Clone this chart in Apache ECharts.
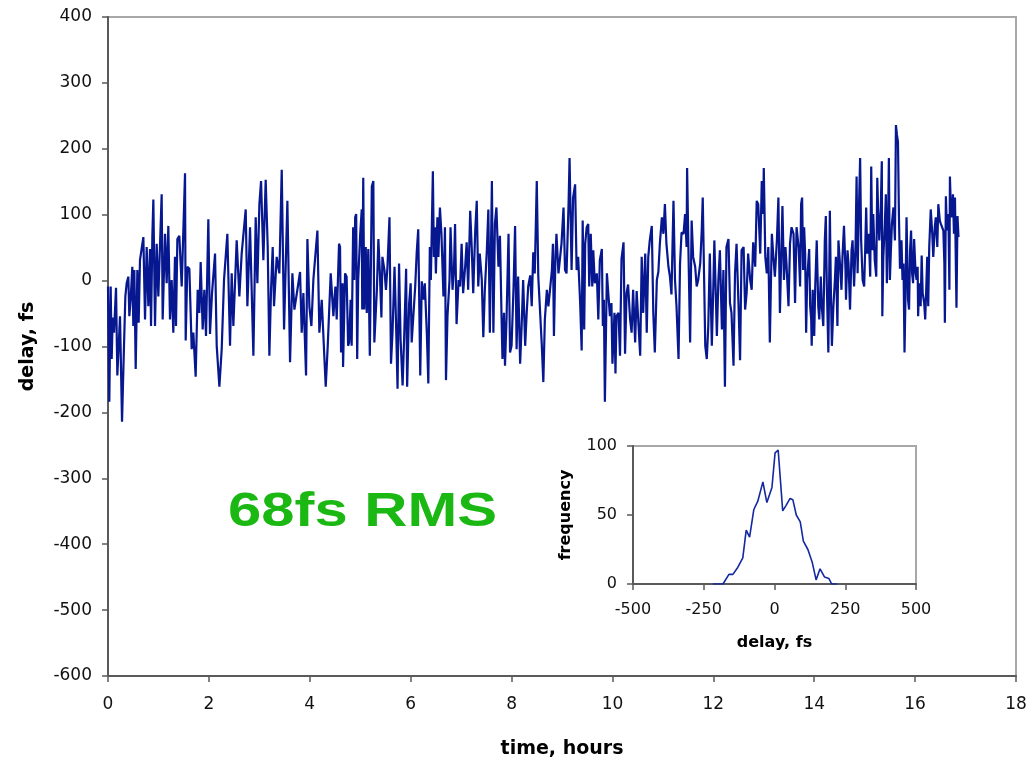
<!DOCTYPE html>
<html>
<head>
<meta charset="utf-8">
<script src="https://cdn.jsdelivr.net/npm/echarts@6/dist/echarts.min.js"></script>
<style>
html,body{margin:0;padding:0;background:#fff;}
#chart{width:1030px;height:764px;}
</style>
</head>
<body>
<div id="chart"></div>
<script>
// ---- main time series in four stretches (hours, delay fs) ----
const hoursA = [
0,0.026,0.053,0.073,0.093,0.119,0.159,0.185,0.238,0.278,
0.317,0.344,0.370,0.403,0.423,0.449,0.482,0.502,0.522,0.549,
0.582,0.608,0.634,0.701,0.734,0.767,0.800,0.833,0.853,0.879,
0.899,0.932,0.965,0.998,1.064,1.084,1.130,1.163,1.196,1.229,
1.262,1.295,1.328,1.348,1.375,1.414,1.461,1.527,1.540,1.573,
1.613,1.659,1.692,1.738,1.778,1.811,1.837,1.877,1.910,1.943,
1.989,2.022,2.062,2.122,2.155,2.208,2.254,2.300,2.366,2.419,
2.452,2.485,2.551,2.604,2.650,2.730,2.763,2.816,2.882,2.928,
2.961,3.001,3.034,3.080,3.126,3.166,3.199,3.232,3.265,3.291,
3.344,3.397,3.444,3.490,3.556,3.609,3.655,3.695,3.807,3.840,
3.873,3.926,3.953,3.992,4.032,4.071,4.151,4.190,4.237,4.316,
4.356,4.415,4.468,4.508,4.534,4.580];
const delayA = [
-9,-184,-9,-119,-56,-79,-11,-144,-54,-214,
-99,-24,-4,6,-54,-29,21,-69,16,-134,
16,-64,31,66,-59,51,-39,48,-69,66,
123,-69,56,-24,131,-59,71,-4,83,-59,
1,-79,36,-69,63,68,-9,163,-91,21,
18,-104,-79,-146,-14,-49,28,-74,-14,-84,
93,-81,-19,41,-99,-161,-104,1,71,-99,
11,-69,61,-24,41,108,-39,81,-114,96,
-4,116,151,31,153,51,-114,-14,51,-39,
36,11,168,-74,121,-124,11,-44,13,-79,
-19,-144,63,-39,-69,1,76,-79,-29,-161,
-99,11,-54,-9,-59,56];

const hoursB = [
4.60,4.62,4.65,4.66,4.70,4.73,4.76,4.78,4.81,4.83,
4.86,4.88,4.90,4.92,4.94,4.96,5.00,5.03,5.04,5.06,
5.08,5.11,5.13,5.16,5.19,5.23,5.26,5.28,5.33,5.36,
5.39,5.42,5.44,5.48,5.51,5.54,5.58,5.61,5.64,5.68,
5.71,5.74,5.77,5.80,5.84,5.87,5.91,5.93,5.97,6.00,
6.02,6.05,6.09,6.12,6.15,6.19,6.22,6.25,6.28,6.32,
6.35,6.38,6.40,6.44,6.46,6.48,6.50,6.53,6.55,6.58,
6.61,6.65,6.68,6.70,6.73,6.77,6.79,6.83,6.86,6.88,
6.91,6.95,6.98,7.01,7.04,7.08,7.11,7.14,7.18,7.21,
7.24,7.28,7.31,7.34,7.37,7.41,7.44,7.47,7.51,7.54,
7.57,7.61,7.64,7.67,7.70,7.74,7.77,7.80,7.82,7.85,
7.87,7.90,7.94,7.97,8.00,8.04,8.07,8.10,8.13,8.17,
8.20,8.23,8.27,8.30,8.33,8.37,8.40,8.43,8.46,8.50,
8.53,8.56,8.60,8.63,8.66,8.70,8.73,8.76,8.80,8.82,
8.84,8.87,8.89,8.93,8.96,8.99,9.03,9.06,9.09,9.13,
9.15];
const delayB = [
51,-109,-4,-131,11,6,-99,-94,-29,-99,
81,1,96,101,-119,1,71,108,-44,156,
-44,51,-49,48,-114,143,151,-94,-14,63,
11,-56,36,16,-14,21,96,-126,-79,21,
-64,-164,26,-89,-159,-89,18,-161,-34,-4,
-94,-96,-9,43,78,-144,-1,-29,-4,-79,
-156,51,1,166,36,81,11,96,36,111,
71,-24,81,-151,-54,1,81,-14,21,86,
-66,1,-9,56,-19,21,58,-14,106,51,
-19,76,121,-9,41,1,-86,-14,46,108,
-79,151,-79,86,111,21,68,-49,-119,-49,
-129,-59,71,-109,-99,-9,83,-104,6,-126,
-69,1,-99,-49,-9,8,-39,43,11,151,
6,3,-99,-154,-59,-14,-39,-39,16,56,
-84,36,71,11,11,56,111,16,11,116,
186];

const hoursC = [
9.19,9.22,9.26,9.29,9.32,9.36,9.39,9.41,9.44,9.46,
9.49,9.52,9.54,9.57,9.60,9.62,9.65,9.69,9.72,9.75,
9.79,9.81,9.83,9.85,9.89,9.92,9.95,9.98,10.00,10.04,
10.06,10.08,10.12,10.15,10.18,10.22,10.25,10.28,10.31,10.35,
10.38,10.41,10.45,10.48,10.51,10.55,10.58,10.61,10.65,10.68,
10.71,10.74,10.78,10.81,10.84,10.88,10.91,10.94,10.98,11.01,
11.04,11.07,11.11,11.14,11.17,11.21,11.24,11.27,11.31,11.34,
11.37,11.41,11.44,11.47,11.48,11.51,11.54,11.57,11.60,11.64,
11.67,11.70,11.74,11.77,11.79,11.82,11.84,11.87,11.90,11.93,
11.97,12.00,12.02,12.05,12.07,12.10,12.13,12.17,12.20,12.23,
12.26,12.30,12.33,12.36,12.40,12.43,12.46,12.50,12.53,12.56,
12.60,12.63,12.66,12.69,12.73,12.76,12.79,12.83,12.86,12.89,
12.93,12.96,12.99,13.00,13.03,13.06,13.09,13.12,13.16,13.19,
13.22,13.26,13.29,13.32,13.36,13.37,13.40,13.43,13.45,13.49,
13.52,13.55,13.59,13.62,13.65,13.69,13.72];
const delayC = [
16,126,146,16,36,-34,-106,91,-74,56,
81,86,-9,71,-9,46,-4,11,-59,31,
48,-69,-29,-184,11,13,-54,-34,-126,-49,
-141,-54,-49,-114,33,58,-111,-19,-6,-59,
-79,-14,-94,-16,-19,-114,36,-49,41,-79,
36,61,83,-49,-109,1,13,56,96,71,
116,56,21,6,-21,121,1,-39,-119,26,
73,71,101,51,171,31,-94,91,36,21,
-9,1,26,76,126,-9,-99,-119,-69,41,
-99,-9,61,-24,-84,1,46,-74,16,-161,
51,63,-34,-49,-129,11,56,-39,-121,46,
51,-44,-19,41,1,-14,58,21,121,116,
41,151,101,171,36,11,51,-94,71,36,
6,61,126,-49,81,113,1,51,26,-39,
56,81,71,-34,81,51,-9];

const hoursD = [
13.74,13.76,13.78,13.80,13.82,13.84,13.86,13.90,13.92,13.94,
13.95,13.97,14.00,14.02,14.05,14.08,14.10,14.13,14.15,14.18,
14.21,14.23,14.25,14.28,14.30,14.31,14.33,14.35,14.38,14.41,
14.43,14.46,14.48,14.51,14.54,14.56,14.59,14.62,14.63,14.66,
14.68,14.71,14.74,14.76,14.79,14.82,14.84,14.86,14.88,14.91,
14.93,14.96,14.99,15.01,15.03,15.05,15.08,15.11,15.13,15.15,
15.17,15.20,15.23,15.25,15.27,15.29,15.32,15.34,15.35,15.37,
15.40,15.42,15.44,15.46,15.48,15.50,15.52,15.54,15.57,15.60,
15.62,15.64,15.66,15.68,15.70,15.73,15.75,15.77,15.79,15.81,
15.83,15.86,15.88,15.90,15.92,15.94,15.96,15.98,16.01,16.03,
16.05,16.06,16.08,16.11,16.13,16.15,16.18,16.20,16.22,16.24,
16.26,16.28,16.31,16.34,16.36,16.39,16.41,16.44,16.46,16.49,
16.51,16.54,16.56,16.58,16.59,16.61,16.63,16.66,16.68,16.69,
16.71,16.73,16.75,16.77,16.79,16.81,16.82,16.84,16.86];
const delayD = [
116,126,16,81,41,-79,1,48,-39,-59,
-99,-14,-84,-9,61,-39,-59,6,-39,-69,
61,98,-9,-109,26,106,-14,-99,-39,1,
36,-69,61,26,-14,36,83,16,-29,46,
26,-44,46,61,-9,56,158,11,86,186,
61,1,-9,46,111,41,71,6,173,46,
101,31,6,156,96,61,111,181,-54,36,
86,131,-4,66,186,1,46,86,111,61,
236,221,211,96,18,61,1,26,-109,-19,
96,-29,-44,46,76,11,-4,63,11,1,
21,-54,-4,-39,38,-19,-34,-59,-14,36,
-39,51,108,71,36,81,96,51,116,91,
86,86,76,26,-64,128,76,101,-14,158,
106,96,131,71,126,11,-41,98,66];

// ---- inset histogram (delay fs, frequency) ----
const histDelay = [-218,-182,-161,-147,-130,-112,-100,-88,-73,-59,-41,-27,-9,2,13,20,29,41,55,65,77,91,102,118,133,147,161,177,192,202,221];
const histFreq  = [0,0,7,7,12,19,39,34,54,60,74,59,70,95,97,97,53,57,62,61,50,45,31,25,16,3,11,5,4,0,0];

// ---- axis ranges / tick steps ----
const mainX = {min:0, max:18, step:2};
const mainY = {min:-600, max:400, step:100};
const insetX = {min:-500, max:500, step:250};
const insetY = {min:0, max:100, step:50};

const hours = hoursA.concat(hoursB, hoursC, hoursD);
const delayFs = delayA.concat(delayB, delayC, delayD);
const n = Math.min(hours.length, delayFs.length);
const mainData = [];
for (let i = 0; i < n; i++) mainData.push([hours[i], delayFs[i]]);

const font = '"DejaVu Sans", Verdana, sans-serif';
const axisCol = '#5a5a5a';

function axisBase(g, lim, name, gap, labelSize, labelMargin, nameSize){
  return {
    type:'value', gridIndex:g, min:lim.min, max:lim.max, interval:lim.step,
    name:name, nameLocation:'middle', nameGap:gap,
    nameTextStyle:{fontFamily:font, fontWeight:'bold', fontSize:nameSize, color:'#000000'},
    axisLine:{show:true, onZero:false, lineStyle:{color:axisCol, width:2}},
    axisTick:{show:true, length:6, lineStyle:{color:axisCol, width:1.5}},
    splitLine:{show:false},
    axisLabel:{fontFamily:font, fontSize:labelSize, color:'#111111', margin:labelMargin}
  };
}

const chart = echarts.init(document.getElementById('chart'), null, {renderer:'canvas'});
chart.setOption({
  animation:false,
  backgroundColor:'#ffffff',
  grid:[
    {left:108, right:14, top:17, bottom:79, show:true, borderColor:'#a8a8a8', borderWidth:2, backgroundColor:'transparent'},
    {left:633, top:446, width:283, height:138, show:true, borderColor:'#a8a8a8', borderWidth:2, backgroundColor:'#ffffff'}
  ],
  xAxis:[
    axisBase(0, mainX, 'time, hours', 64, 17, 20, 19),
    axisBase(1, insetX, 'delay, fs', 51, 16, 18, 16)
  ],
  yAxis:[
    axisBase(0, mainY, 'delay, fs', 70, 17, 16, 19),
    axisBase(1, insetY, 'frequency', 59, 16, 16, 16)
  ],
  series:[
    {type:'line', xAxisIndex:0, yAxisIndex:0, showSymbol:false, symbol:'none', sampling:null,
     lineStyle:{color:'#061790', width:2.2}, data:mainData},
    {type:'line', xAxisIndex:1, yAxisIndex:1, showSymbol:false, symbol:'none',
     lineStyle:{color:'#1428a0', width:1.6}, data:histDelay.map((d,i)=>[d, histFreq[i]])}
  ],
  graphic:[
    {type:'text', x:228, y:512, scaleX:1.22,
     style:{text:'68fs RMS', font:'bold 49px "Liberation Sans", Arial, sans-serif', fill:'#1bb814', textAlign:'left', textVerticalAlign:'middle'}}
  ]
});
</script>
</body>
</html>
